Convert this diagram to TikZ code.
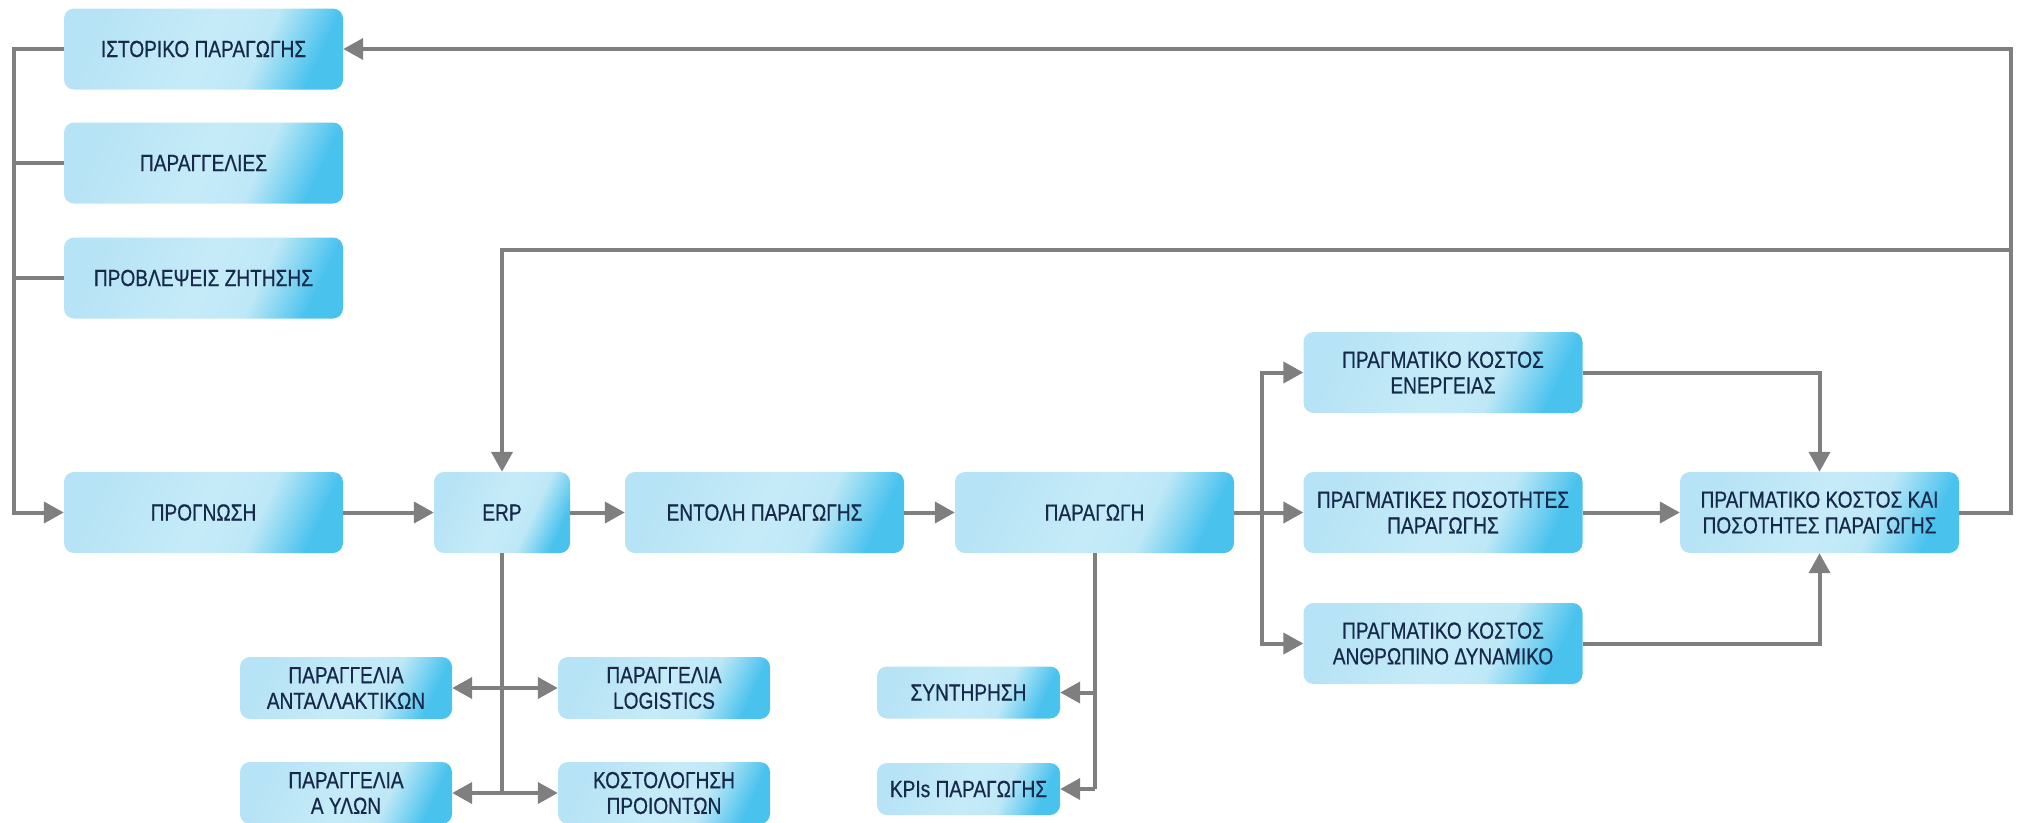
\documentclass[tikz,border=0pt]{standalone}
\usepackage{fontspec}
\setmainfont{Liberation Sans}[FakeStretch=0.82, FakeBold=0.6]
\usetikzlibrary{arrows.meta,calc}
\definecolor{linegray}{HTML}{7F7F7F}
\definecolor{txt}{HTML}{16294A}
\definecolor{bA}{HTML}{B6E3F5}
\definecolor{bB}{HTML}{C6EBF8}
\definecolor{bC}{HTML}{BEE8F7}
\definecolor{bD}{HTML}{7FD4F2}
\definecolor{bE}{HTML}{4AC2EE}
\pgfdeclarehorizontalshading{boxshade}{100bp}{color(0bp)=(bA); color(25bp)=(bA); color(50bp)=(bB); color(62bp)=(bC); color(69bp)=(bD); color(75bp)=(bE); color(100bp)=(bE)}
\tikzset{
  box/.style={rectangle, rounded corners=10pt, shading=boxshade, shading angle=-25,
    text=txt, align=center, font=\fontsize{23.3}{25.7}\selectfont, inner sep=0pt},
  bigbox/.style={box, minimum width=279pt, minimum height=81pt},
  midbox/.style={box, minimum width=212pt, minimum height=62pt},
  smallbox/.style={box, minimum width=183pt, minimum height=52pt},
  ln/.style={line width=4pt, draw=linegray},
  arr/.style={ln, -{Triangle[length=20pt,width=21pt]}},
  arrboth/.style={ln, {Triangle[length=20pt,width=21pt]}-{Triangle[length=20pt,width=21pt]}}
}
\begin{document}
\begin{tikzpicture}[x=1pt,y=-1pt]
\useasboundingbox (0,0) rectangle (2017,822);
% left column
\node[bigbox] (ist) at (203.5,49) {ΙΣΤΟΡΙΚΟ ΠΑΡΑΓΩΓΗΣ};
\node[bigbox] (ord) at (203.5,163) {ΠΑΡΑΓΓΕΛΙΕΣ};
\node[bigbox] (dem) at (203.5,278) {ΠΡΟΒΛΕΨΕΙΣ ΖΗΤΗΣΗΣ};
% main row
\node[bigbox] (prog) at (203.5,512.5) {ΠΡΟΓΝΩΣΗ};
\node[box, minimum width=136pt, minimum height=81pt] (erp) at (502,512.5) {ERP};
\node[bigbox] (ent) at (764.5,512.5) {ΕΝΤΟΛΗ ΠΑΡΑΓΩΓΗΣ};
\node[bigbox] (par) at (1094.5,512.5) {ΠΑΡΑΓΩΓΗ};
% right part
\node[bigbox] (en) at (1443,372.5) {ΠΡΑΓΜΑΤΙΚΟ ΚΟΣΤΟΣ\\ΕΝΕΡΓΕΙΑΣ};
\node[bigbox] (qty) at (1443,512.5) {ΠΡΑΓΜΑΤΙΚΕΣ ΠΟΣΟΤΗΤΕΣ\\ΠΑΡΑΓΩΓΗΣ};
\node[bigbox] (hum) at (1443,643.5) {ΠΡΑΓΜΑΤΙΚΟ ΚΟΣΤΟΣ\\ΑΝΘΡΩΠΙΝΟ ΔΥΝΑΜΙΚΟ};
\node[bigbox] (kai) at (1819.5,512.5) {ΠΡΑΓΜΑΤΙΚΟ ΚΟΣΤΟΣ ΚΑΙ\\ΠΟΣΟΤΗΤΕΣ ΠΑΡΑΓΩΓΗΣ};
% bottom
\node[midbox] (ant) at (346,688) {ΠΑΡΑΓΓΕΛΙΑ\\ΑΝΤΑΛΛΑΚΤΙΚΩΝ};
\node[midbox] (log) at (664,688) {ΠΑΡΑΓΓΕΛΙΑ\\LOGISTICS};
\node[midbox] (ayl) at (346,793) {ΠΑΡΑΓΓΕΛΙΑ\\Α ΥΛΩΝ};
\node[midbox] (kos) at (664,793) {ΚΟΣΤΟΛΟΓΗΣΗ\\ΠΡΟΙΟΝΤΩΝ};
\node[smallbox] (syn) at (968.5,692.5) {ΣΥΝΤΗΡΗΣΗ};
\node[smallbox] (kpi) at (968.5,789) {KPIs ΠΑΡΑΓΩΓΗΣ};
% coordinates
\coordinate (lbus) at (14,512.5);
\coordinate (rbus) at (1262,512.5);
\coordinate (rr) at (2011,250);
% left bus
\draw[arr] (ist.west) -| (lbus) -- (prog.west);
\draw[ln] (ord.west) -- (ord.west -| lbus);
\draw[ln] (dem.west) -- (dem.west -| lbus);
% main flow
\draw[arr] (prog) -- (erp);
\draw[arr] (erp) -- (ent);
\draw[arr] (ent) -- (par);
% fan out
\draw[arr] (par.east) -- (qty.west);
\draw[arr] (rbus) |- (en.west);
\draw[arr] (rbus) |- (hum.west);
% fan in
\draw[arr] (en.east) -| (kai.north);
\draw[arr] (hum.east) -| (kai.south);
\draw[arr] (qty.east) -- (kai.west);
% feedback
\draw[arr] (kai.east) -| (rr) |- (ist.east);
\draw[arr] (rr) -| (erp.north);
% ERP down
\draw[ln] (erp.south) -- (erp.south |- ayl.east);
\draw[arrboth] (ant.east) -- (log.west);
\draw[arrboth] (ayl.east) -- (kos.west);
% production down
\draw[ln] (par.south) -- (par.south |- kpi.east);
\draw[arr] (par.south |- syn.east) -- (syn.east);
\draw[arr] (par.south |- kpi.east) -- (kpi.east);
\end{tikzpicture}
\end{document}
